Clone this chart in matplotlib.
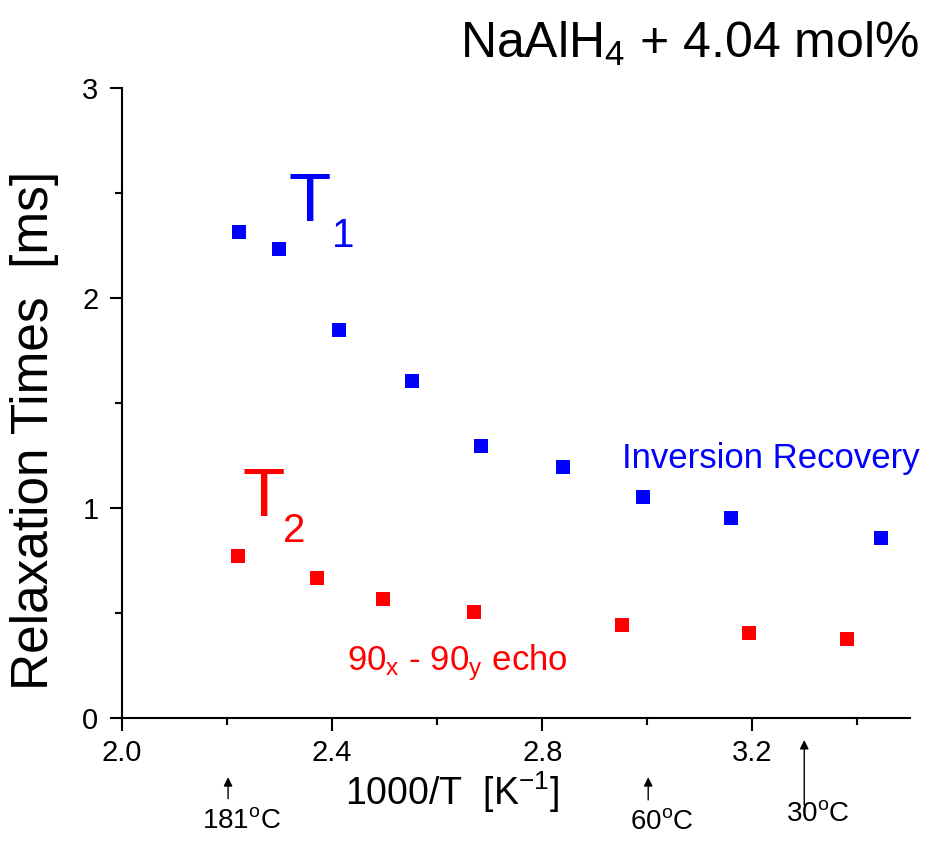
import matplotlib
matplotlib.use("Agg")
import matplotlib.pyplot as plt
from matplotlib.ticker import FixedLocator, FixedFormatter

plt.rcParams['font.family'] = ['Liberation Sans', 'DejaVu Sans']
plt.rcParams['mathtext.fontset'] = 'custom'
plt.rcParams['mathtext.rm'] = 'Liberation Sans'
plt.rcParams['mathtext.it'] = 'Liberation Sans:italic'
plt.rcParams['mathtext.sf'] = 'Liberation Sans'

# T1 from inversion recovery
t1_x = [2.222, 2.299, 2.413, 2.552, 2.683, 2.839, 2.991, 3.159, 3.445]
t1_ms = [2.314, 2.235, 1.846, 1.605, 1.297, 1.197, 1.054, 0.954, 0.856]

# T2 from 90x - 90y echo
t2_x = [2.220, 2.371, 2.496, 2.670, 2.951, 3.194, 3.380]
t2_ms = [0.771, 0.665, 0.568, 0.506, 0.443, 0.406, 0.376]

x_ticks = [2.0, 2.4, 2.8, 3.2]
x_minor = [2.2, 2.6, 3.0, 3.4]
x_labels = ['2.0', '2.4', '2.8', '3.2']
y_ticks = [0, 1, 2, 3]
y_minor = [0.5, 1.5, 2.5]
y_labels = ['0', '1', '2', '3']

# temperatures marked under the x axis
temps_c = [181, 60, 30]

fig = plt.figure(figsize=(9.3, 8.41), dpi=100)
ax = fig.add_axes([122 / 930, 1 - 718 / 841, (910 - 122) / 930, (718 - 88) / 841])

ax.plot(t1_x, t1_ms, 's', color='#0000ff', markersize=10, markeredgewidth=0)
ax.plot(t2_x, t2_ms, 's', color='#ff0000', markersize=10, markeredgewidth=0)

ax.set_xlim(2.0, 3.5)
ax.set_ylim(0, 3)
ax.xaxis.set_major_locator(FixedLocator(x_ticks))
ax.xaxis.set_major_formatter(FixedFormatter(x_labels))
ax.xaxis.set_minor_locator(FixedLocator(x_minor))
ax.yaxis.set_major_locator(FixedLocator(y_ticks))
ax.yaxis.set_major_formatter(FixedFormatter(y_labels))
ax.yaxis.set_minor_locator(FixedLocator(y_minor))

for s in ['top', 'right']:
    ax.spines[s].set_visible(False)
for s in ['left', 'bottom']:
    ax.spines[s].set_linewidth(1.5)
ax.tick_params(which='major', direction='out', length=9, width=1.5, labelsize=21)
ax.tick_params(which='minor', direction='out', length=5, width=1.5)
ax.tick_params(axis='x', which='major', pad=6)
ax.tick_params(axis='y', which='major', pad=8)

ax.set_ylabel('Relaxation Times  [ms]', fontsize=37)
ax.yaxis.set_label_coords(-0.080, 0.457)
ax.set_xlabel(r'1000/T  [K$^{\mathregular{-1}}$]', fontsize=27)
ax.xaxis.set_label_coords(0.419, -0.081)

# series labels
ax.text(2.316, 2.367, 'T', color='#0000ff', fontsize=50)
ax.text(2.400, 2.243, '1', color='#0000ff', fontsize=29)
ax.text(2.230, 0.962, 'T', color='#ff0000', fontsize=50)
ax.text(2.3065, 0.838, '2', color='#ff0000', fontsize=29)
ax.text(2.952, 1.190, 'Inversion Recovery', color='#0000ff', fontsize=25)
ax.text(2.428, 0.229, r'90$_{\mathregular{x}}$ - 90$_{\mathregular{y}}$ echo',
        color='#ff0000', fontsize=25)

fig.text(460 / 930, 1 - 58 / 841, r'NaAlH$_{\mathregular{4}}$ + 4.04 mol%', fontsize=36)

# temperature markers below the axis
xt = ax.get_xaxis_transform()
tips = [-0.094, -0.094, -0.035]
tails = [-0.128, -0.130, -0.138]
label_y = [-0.143, -0.145, -0.131]
for t, tip, tail, ly in zip(temps_c, tips, tails, label_y):
    xv = 1000 / (t + 273.15)
    ax.annotate('', xy=(xv, tip), xytext=(xv, tail), xycoords=xt, textcoords=xt,
                arrowprops=dict(arrowstyle='-|>', color='k', lw=1, mutation_scale=13,
                                shrinkA=0, shrinkB=0))
    ax.text(xv + 0.025, ly, str(t) + r'$^{\mathregular{o}}$C', transform=xt,
            ha='center', va='top', fontsize=20)

fig.savefig('out.png', dpi=100)
